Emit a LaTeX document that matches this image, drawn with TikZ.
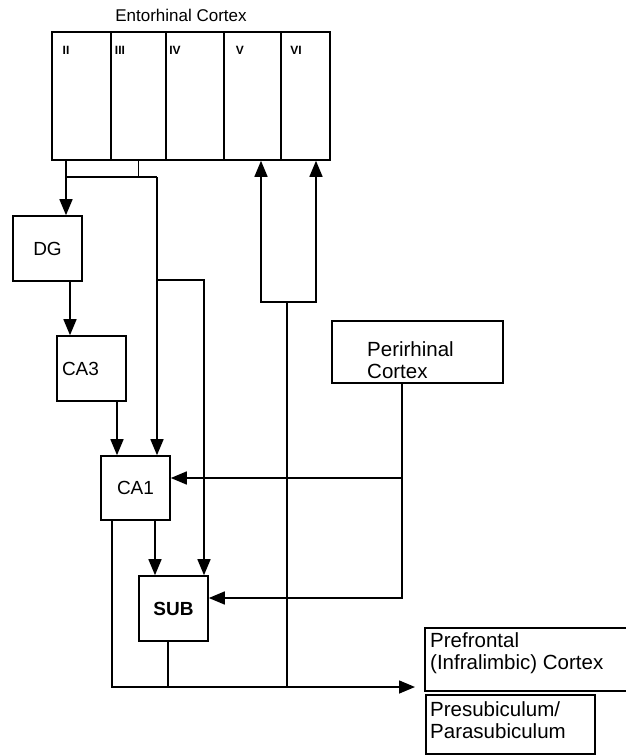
\documentclass[tikz,border=0pt]{standalone}
\usepackage{fontspec}
\setmainfont{Liberation Sans}
\usetikzlibrary{arrows.meta,positioning}

\begin{document}
\begin{tikzpicture}[
  x=1pt, y=-1pt,
  lay/.style={draw, line width=1.6pt, minimum height=128pt, inner sep=0pt},
  num/.style={font=\bfseries\fontsize{12}{13}\selectfont, inner sep=0pt},
  box/.style={draw, line width=1.6pt, minimum width=69pt, minimum height=65pt,
    inner sep=0pt, font=\fontsize{19}{21}\selectfont},
  big/.style={align=left, inner sep=0pt, font=\fontsize{20.5}{22.5}\selectfont},
  w/.style={line width=1.5pt},
  d/.style={-{Triangle[length=16pt,width=13pt]}, line width=1.5pt}
]
\useasboundingbox (0,0) rectangle (626,756);

% entorhinal cortex layers
\node[anchor=base, font=\fontsize{17}{19}\selectfont] (ectitle) at (181,21) {Entorhinal Cortex};
\node[lay, minimum width=59pt] (l2) at (81.5,96) {};
\node[lay, minimum width=55pt] (l3) at (138.5,96) {};
\node[lay, minimum width=58pt] (l4) at (195,96) {};
\node[lay, minimum width=57pt] (l5) at (252.5,96) {};
\node[lay, minimum width=49pt] (l6) at (305.5,96) {};
\node[num] (n2) at (66,50) {II};
\node[num] (n3) at (120,50) {III};
\node[num] (n4) at (175,50) {IV};
\node[num] (n5) at (240,50) {V};
\node[num] (n6) at (296,50) {VI};

% hippocampal boxes
\node[box] (dg) at (47.5,248.5) {DG};
\node[box, text width=59pt, align=left] (ca3) at (91.5,368.5) {CA3};
\node[box, minimum height=64pt] (ca1) at (135.5,488) {CA1};
\node[box, font=\bfseries\fontsize{19}{21}\selectfont] (sub) at (173.5,608.5) {SUB};

% other regions
\node[draw, line width=1.6pt, minimum width=171pt, minimum height=62pt] (peri) at (417.5,352) {};
\node[big, anchor=west] (peritxt) at (367,360) {Perirhinal\\Cortex};
\node[minimum width=215pt, minimum height=63pt, inner sep=0pt] (pfc) at (532.5,659.5) {};
\draw[line width=1.6pt] (pfc.north east) -- (pfc.north west) -- (pfc.south west) -- (pfc.south east);
\node[big, anchor=west] (pfctxt) at (430,653) {Prefrontal\\(Infralimbic) Cortex};
\node[draw, line width=1.6pt, minimum width=169pt, minimum height=59pt] (pre) at (510.5,724.5) {};
\node[big, anchor=west] (pretxt) at (430,720) {Presubiculum/\\Parasubiculum};

\coordinate (ecj) at (66,177);
\coordinate (ppj) at (157,177);
\coordinate (ppk) at (157,280);
\coordinate (ppm) at (204,280);
\coordinate (pr) at ([xshift=-15.5pt]peri.south);
\coordinate (tip) at (415,687);
\coordinate (fb) at (287,302);

% perforant path
\draw[d] (l2.south -| ecj) -- (ecj |- dg.north);
\draw[w] (l3.south) -- (l3.south |- ecj);
\draw[w] (ecj) -- (ppj);
\draw[d] (ppj) -- (ppj |- ca1.north);
\draw[d] (ppk) -- (ppm) -- (ppm |- sub.north);

% trisynaptic loop
\draw[d] ([xshift=22.5pt]dg.south) -- ([xshift=22.5pt]dg.south |- ca3.north);
\draw[d] ([xshift=25.5pt]ca3.south) -- ([xshift=25.5pt]ca3.south |- ca1.north);
\draw[d] ([xshift=19.5pt]ca1.south) -- ([xshift=19.5pt]ca1.south |- sub.north);

% perirhinal input
\draw[d] (pr) |- ([yshift=10.5pt]sub.east);
\draw[d] ([yshift=10pt]ca1.east -| pr) -- ([yshift=10pt]ca1.east);

% output and feedback
\draw[d] ([xshift=-23.5pt]ca1.south) |- (tip);
\draw[w] ([xshift=-5.5pt]sub.south) -- ([xshift=-5.5pt]sub.south |- tip);
\draw[w] (fb |- tip) -- (fb);
\draw[d] (fb) -| ([xshift=8.5pt]l5.south);
\draw[d] (fb) -| ([xshift=10.5pt]l6.south);
\end{tikzpicture}
\end{document}
